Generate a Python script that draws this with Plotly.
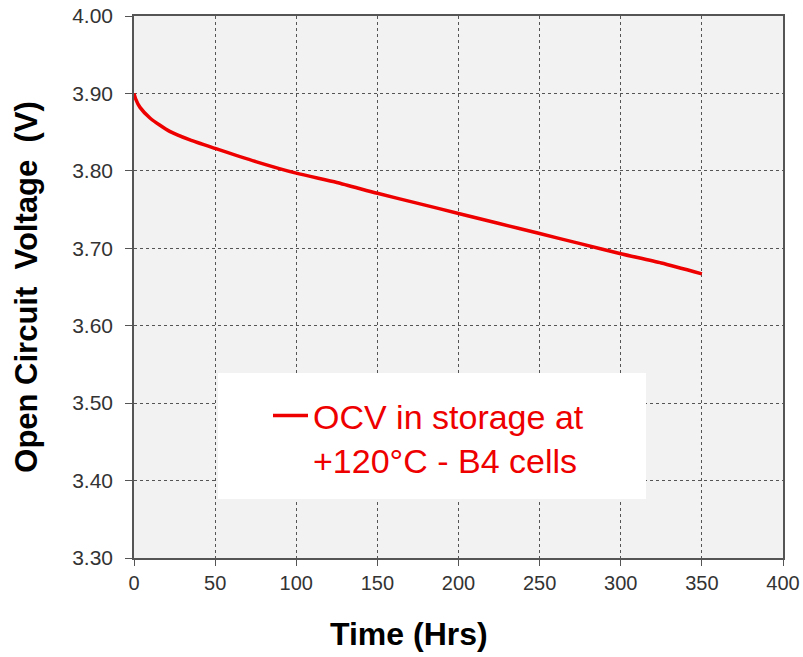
import plotly.graph_objects as go

# Data
time_hrs = [0, 1, 3.7, 10, 22, 34.5, 50, 75, 100, 125, 150, 175, 200, 225, 250, 275, 300, 325, 350]
ocv_volts = [3.900, 3.893, 3.882, 3.868, 3.851, 3.840, 3.829, 3.812, 3.797, 3.785, 3.771,
             3.758, 3.745, 3.732, 3.719, 3.706, 3.693, 3.681, 3.667]
x_ticks = [0, 50, 100, 150, 200, 250, 300, 350, 400]
y_ticks = [3.30, 3.40, 3.50, 3.60, 3.70, 3.80, 3.90, 4.00]
series_name = "OCV in storage at<br>+120°C - B4 cells"

FONT = "Liberation Sans, Arial, sans-serif"
RED = "rgb(238,0,0)"

W, H = 803, 657
ML, MR, MT, MB = 134, 20, 16, 99
PW, PH = W - ML - MR, H - MT - MB  # 649 x 542


def px(xabs):
    return (xabs - ML) / PW


def py(yabs):
    return (H - MB - yabs) / PH


fig = go.Figure()
fig.add_trace(go.Scatter(
    x=time_hrs, y=ocv_volts, mode="lines", name=series_name,
    line=dict(color=RED, width=3.5, shape="spline", smoothing=0.6),
))

# white legend panel
fig.add_shape(type="rect", xref="paper", yref="paper",
              x0=px(218), x1=px(646), y0=py(499), y1=py(373),
              fillcolor="white", line=dict(width=0), layer="above")

fig.update_layout(
    width=W, height=H,
    margin=dict(l=ML, r=MR, t=MT, b=MB),
    paper_bgcolor="white",
    plot_bgcolor="#f2f2f2",
    font=dict(family=FONT, size=20, color="#333333"),
    showlegend=True,
    legend=dict(
        x=px(268), xanchor="left",
        y=py(387), yanchor="top",
        bgcolor="rgba(0,0,0,0)", borderwidth=0,
        font=dict(family=FONT, size=34, color=RED),
        valign="top", itemwidth=35,
    ),
    xaxis=dict(
        range=[0, 400], tickvals=x_ticks, ticktext=[str(v) for v in x_ticks],
        showgrid=True, gridcolor="#555555", griddash="dot", gridwidth=1,
        showline=True, linecolor="#555555", linewidth=1.5, mirror=True,
        ticks="outside", ticklen=6, tickcolor="#555555",
        zeroline=False, tickfont=dict(size=20, color="#333333"),
        automargin=False,
    ),
    yaxis=dict(
        range=[3.30, 4.00], tickvals=y_ticks, ticktext=[f"{v:.2f}" for v in y_ticks],
        showgrid=True, gridcolor="#555555", griddash="dot", gridwidth=1,
        showline=True, linecolor="#555555", linewidth=1.5, mirror=True,
        ticks="outside", ticklen=7, tickcolor="#555555", ticklabelstandoff=8,
        zeroline=False, tickfont=dict(size=21, color="#333333"),
        automargin=False,
        title=dict(text="Open Circuit\u00a0\u00a0Voltage\u00a0\u00a0(V)",
                   font=dict(family=FONT, size=31, color="#000000", weight="bold"),
                   standoff=25),
    ),
)

fig.add_annotation(text="Time (Hrs)", xref="paper", yref="paper",
                   x=px(409), y=py(634),
                   xanchor="center", yanchor="middle", showarrow=False,
                   font=dict(family=FONT, size=32, color="#000000", weight="bold"))

fig.write_html("out.html", config={"displayModeBar": False},
               post_script="document.body.style.margin='0';")
